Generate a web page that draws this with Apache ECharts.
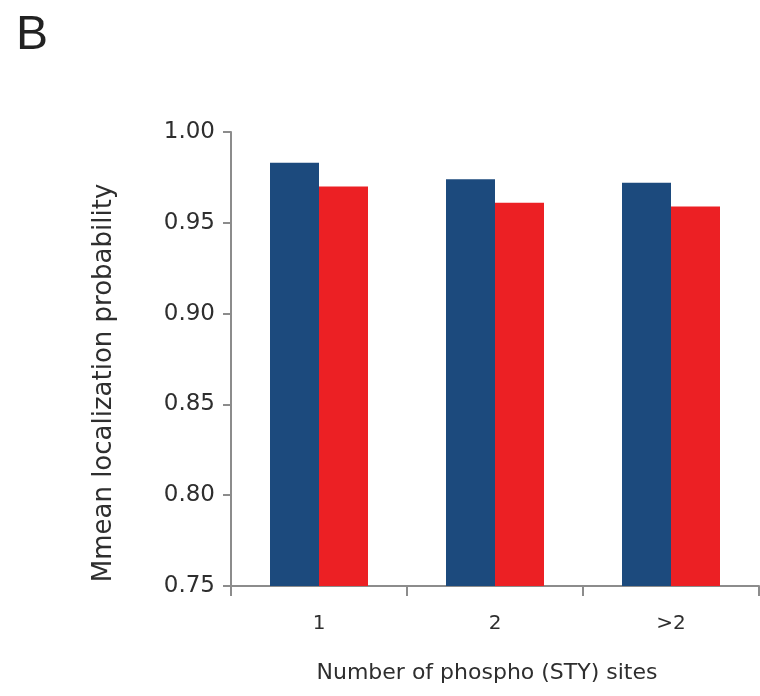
<!DOCTYPE html>
<html>
<head>
<meta charset="utf-8">
<title>Mean localization probability</title>
<script src="https://cdn.jsdelivr.net/npm/echarts@6/dist/echarts.min.js"></script>
<style>
  html, body { margin: 0; padding: 0; background: #ffffff; }
  #chart { width: 760px; height: 696px; }
</style>
</head>
<body>
<div id="chart"></div>
<script>
// Categories: number of phospho (STY) sites per peptide
const categories = ['1', '2', '>2'];
// Mean localization probability for the two groups
const blueValues = [0.983, 0.974, 0.972];
const redValues = [0.970, 0.961, 0.959];
// Y axis range and step
const yMin = 0.75;
const yMax = 1.00;
const yStep = 0.05;

const axisGrey = '#8c8c8c';
const textColor = '#2e2e2e';
const wideFont = '"DejaVu Sans", "Liberation Sans", Arial, sans-serif';

const chart = echarts.init(document.getElementById('chart'), null, { renderer: 'canvas' });

chart.setOption({
  backgroundColor: '#ffffff',
  animation: false,
  grid: { left: 231, right: 1, top: 132, bottom: 110, containLabel: false },
  xAxis: {
    type: 'category',
    data: categories,
    axisLine: { show: true, lineStyle: { color: axisGrey, width: 2 } },
    axisTick: { show: true, inside: false, length: 10, lineStyle: { color: axisGrey, width: 2 } },
    axisLabel: { color: textColor, fontFamily: wideFont, fontSize: 20, margin: 28 },
    splitLine: { show: false }
  },
  yAxis: {
    type: 'value',
    min: yMin,
    max: yMax,
    interval: yStep,
    axisLine: { show: true, lineStyle: { color: axisGrey, width: 2 } },
    axisTick: { show: true, inside: false, length: 8, lineStyle: { color: axisGrey, width: 2 } },
    axisLabel: {
      color: textColor, fontFamily: wideFont, fontSize: 23, margin: 16,
      formatter: v => v.toFixed(2)
    },
    splitLine: { show: false }
  },
  series: [
    {
      name: 'group A',
      type: 'bar',
      data: blueValues,
      barWidth: 49,
      barGap: '0%',
      itemStyle: { color: '#1c4a7d' }
    },
    {
      name: 'group B',
      type: 'bar',
      data: redValues,
      barWidth: 49,
      barGap: '0%',
      itemStyle: { color: '#ec2024' }
    }
  ],
  graphic: [
    {
      type: 'text',
      x: 16, y: 12,
      style: { text: 'B', font: '48px "Liberation Sans", Arial, sans-serif', fill: '#222222' }
    },
    {
      type: 'text',
      x: 104, y: 383,
      rotation: Math.PI / 2,
      style: {
        text: 'Mmean localization probability',
        font: '26px "DejaVu Sans", "Liberation Sans", Arial, sans-serif',
        fill: textColor,
        align: 'center',
        verticalAlign: 'middle'
      }
    },
    {
      type: 'text',
      x: 487, y: 673,
      style: {
        text: 'Number of phospho (STY) sites',
        font: '22px "DejaVu Sans", "Liberation Sans", Arial, sans-serif',
        fill: textColor,
        align: 'center',
        verticalAlign: 'middle'
      }
    }
  ]
});
</script>
</body>
</html>
